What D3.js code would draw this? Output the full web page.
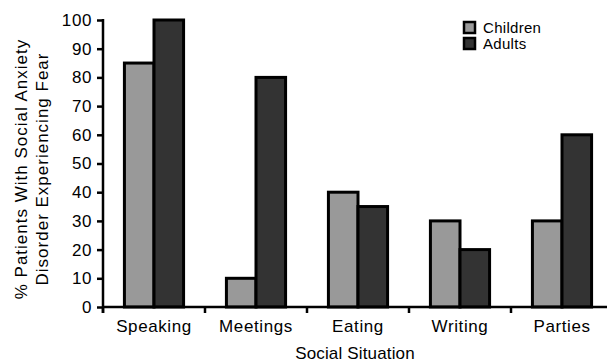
<!DOCTYPE html>
<html>
<head>
<meta charset="utf-8">
<script src="https://cdn.jsdelivr.net/npm/d3@7"></script>
<style>
  html, body { margin: 0; padding: 0; background: #fff; }
  svg { display: block; font-family: "Liberation Sans", Arial, Helvetica, sans-serif; }
</style>
</head>
<body>
<svg id="chart" width="607" height="362"></svg>
<script>
// Share of patients with social anxiety disorder who fear each situation
const situations = ["Speaking", "Meetings", "Eating", "Writing", "Parties"];
const groups = ["Children", "Adults"];
const childrenValues = [85, 10, 40, 30, 30];
const adultsValues = [100, 80, 35, 20, 60];
const yTicks = [0, 10, 20, 30, 40, 50, 60, 70, 80, 90, 100];

const groupColor = { Children: "#999999", Adults: "#333333" };
const rows = situations.map((s, i) => ({
  situation: s,
  values: [
    { group: "Children", value: childrenValues[i] },
    { group: "Adults", value: adultsValues[i] }
  ]
}));

const svg = d3.select("#chart");
const plotLeft = 103, plotRight = 613, plotTop = 20, plotBottom = 307;

// band per situation; ticks sit on the band boundaries
const x = d3.scaleBand().domain(situations).range([plotLeft, plotRight]).padding(0);
const xInner = d3.scaleBand().domain(groups)
  .range([x.step() * 0.21, x.step() * 0.79]).padding(0);
const y = d3.scaleLinear().domain([0, 100]).range([plotBottom, plotTop]);

// bars
const g = svg.append("g");
g.selectAll("g.pair").data(rows).join("g")
  .attr("class", "pair")
  .attr("transform", d => `translate(${x(d.situation)},0)`)
  .selectAll("rect").data(d => d.values).join("rect")
  .attr("x", d => xInner(d.group))
  .attr("y", d => y(d.value))
  .attr("width", xInner.bandwidth())
  .attr("height", d => y(0) - y(d.value))
  .attr("fill", d => groupColor[d.group])
  .attr("stroke", "#000")
  .attr("stroke-width", 3);

// y axis
const yAxis = d3.axisLeft(y).tickValues(yTicks).tickSize(6).tickPadding(5);
const ya = svg.append("g").attr("transform", `translate(${plotLeft},0)`).call(yAxis);
ya.select(".domain").remove();
ya.selectAll(".tick line").attr("stroke", "#000").attr("stroke-width", 2.5);
ya.selectAll(".tick text").attr("font-size", 17).attr("letter-spacing", 0.6)
  .attr("fill", "#000");
ya.attr("font-family", null).attr("font-size", null);
svg.append("line").attr("x1", plotLeft).attr("x2", plotLeft)
  .attr("y1", y(100) - 1).attr("y2", y(0) + 6)
  .attr("stroke", "#000").attr("stroke-width", 2.5);

// x axis line, boundary ticks and category labels
svg.append("line").attr("x1", plotLeft).attr("x2", 607)
  .attr("y1", y(0)).attr("y2", y(0))
  .attr("stroke", "#000").attr("stroke-width", 2.5);
svg.append("g").selectAll("line").data(situations).join("line")
  .attr("x1", d => x(d)).attr("x2", d => x(d))
  .attr("y1", y(0)).attr("y2", y(0) + 6)
  .attr("stroke", "#000").attr("stroke-width", 2.5);
svg.append("g").selectAll("text").data(situations).join("text")
  .attr("x", d => x(d) + x.bandwidth() / 2)
  .attr("y", 332)
  .attr("text-anchor", "middle")
  .attr("font-size", 17).attr("letter-spacing", 0.6)
  .text(d => d);

// axis titles
svg.append("text").attr("x", 355).attr("y", 358.5)
  .attr("text-anchor", "middle").attr("font-size", 17).attr("letter-spacing", 0.15)
  .text("Social Situation");
const yTitle = svg.append("text")
  .attr("transform", "translate(0,169) rotate(-90)")
  .attr("text-anchor", "middle").attr("font-size", 17).attr("letter-spacing", 1);
yTitle.append("tspan").attr("x", 0).attr("y", 26.5).text("% Patients With Social Anxiety");
yTitle.append("tspan").attr("x", 0).attr("y", 47.5).text("Disorder Experiencing Fear");

// legend
const legend = svg.append("g").attr("transform", "translate(464,22)");
const item = legend.selectAll("g").data(groups).join("g")
  .attr("transform", (d, i) => `translate(0,${i * 16})`);
item.append("rect").attr("x", 0).attr("y", 0).attr("width", 11).attr("height", 11)
  .attr("fill", d => groupColor[d]).attr("stroke", "#000").attr("stroke-width", 2.5);
item.append("text").attr("x", 19).attr("y", 11)
  .attr("font-size", 15).attr("letter-spacing", 0.3)
  .text(d => d);
</script>
</body>
</html>
